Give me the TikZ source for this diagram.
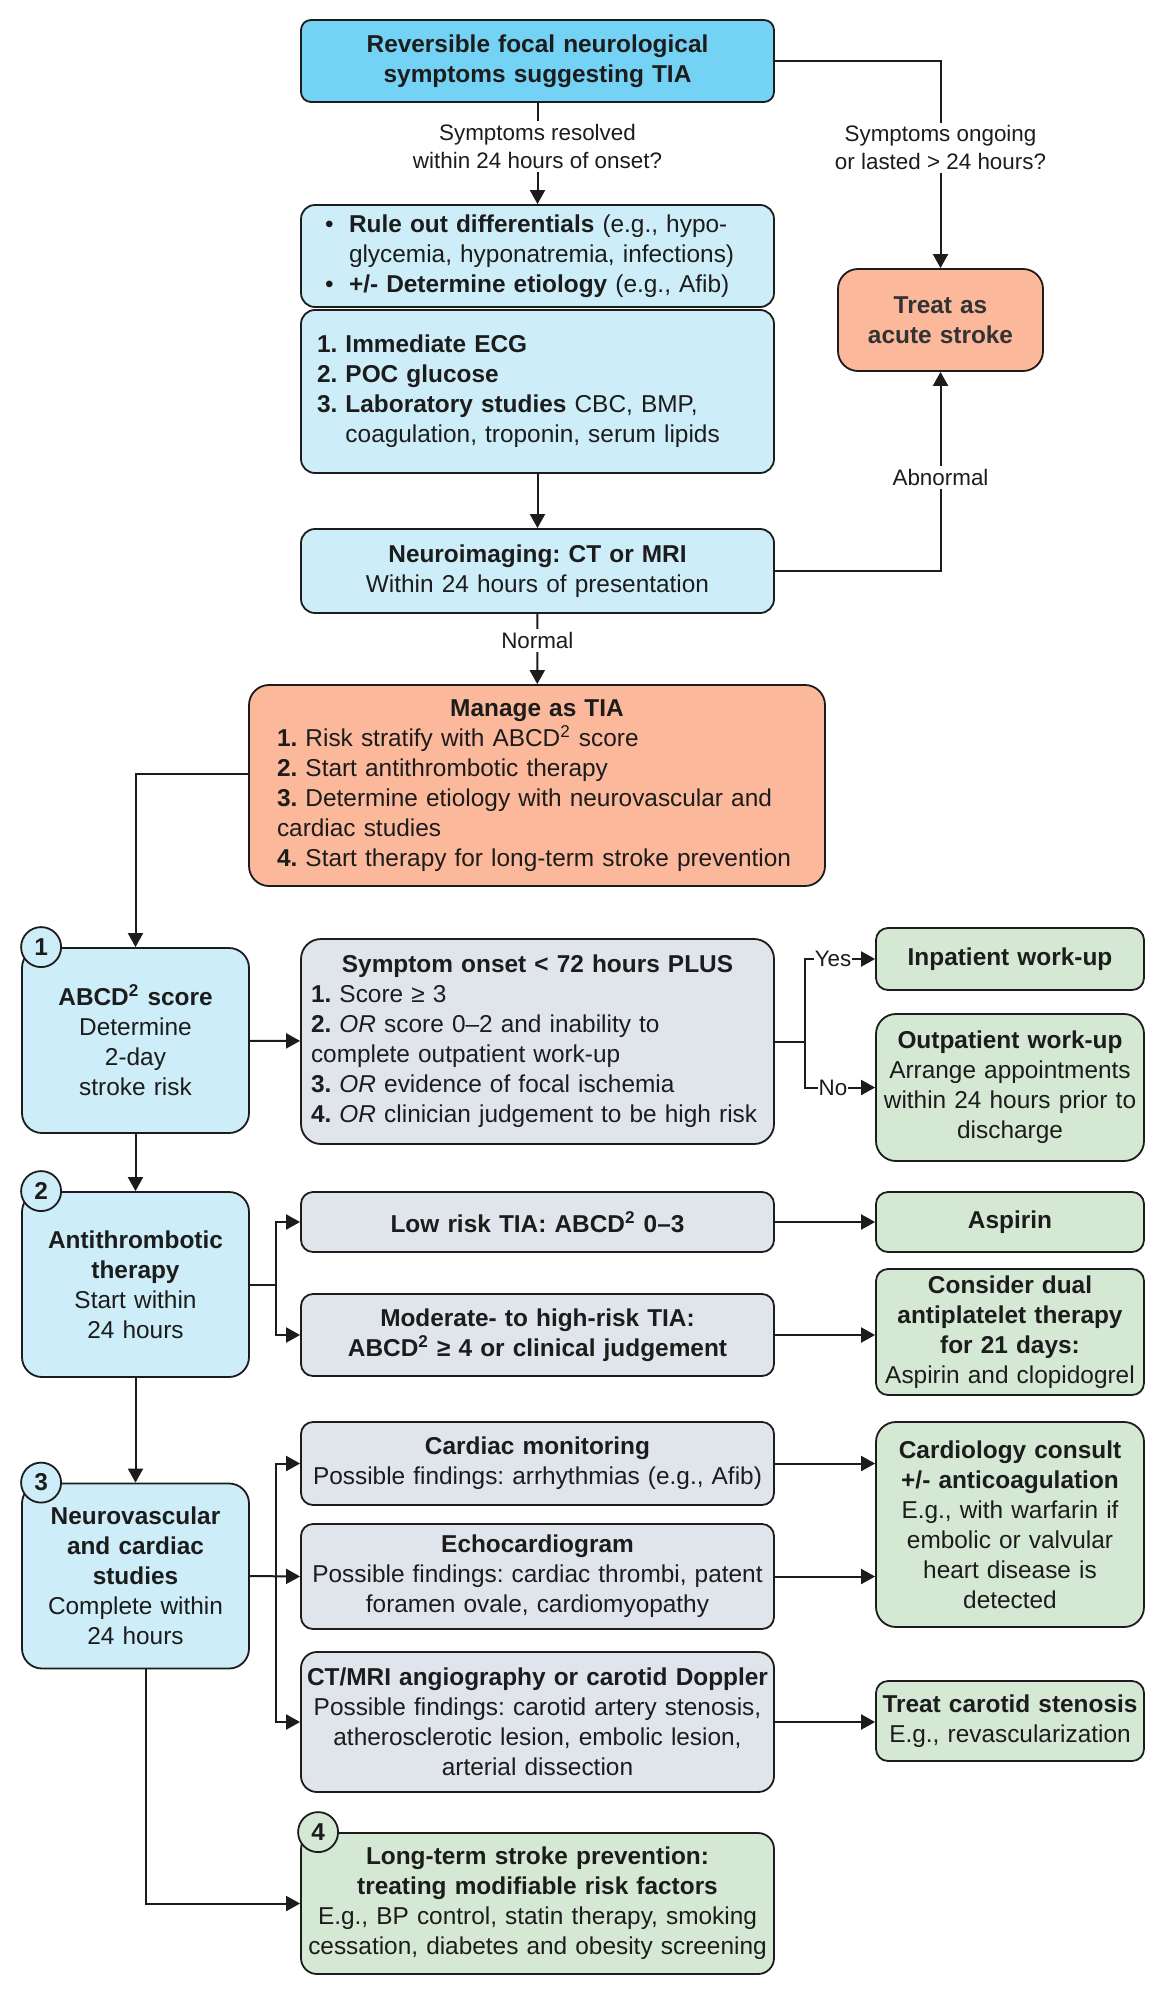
\documentclass[tikz,border=0pt]{standalone}
\usepackage{fontspec}
\setmainfont{Liberation Sans}
\usepackage{tikz}
\usetikzlibrary{arrows.meta,positioning,calc}
\definecolor{headcolor}{HTML}{74D2F4}
\definecolor{bluefill}{HTML}{CDEEF9}
\definecolor{salmonfill}{HTML}{FBB89B}
\definecolor{grayfill}{HTML}{E0E4EB}
\definecolor{greenfill}{HTML}{D5E8D4}
\definecolor{ink}{HTML}{1C1C1C}
\definecolor{softink}{HTML}{333333}
\newcommand{\bodysize}{\fontsize{12.2}{15}\selectfont\frenchspacing}
\newcommand{\labelsize}{\fontsize{11.2}{14}\selectfont\frenchspacing}
\tikzset{
  headnode/.style={
    draw=ink,
    line width=0.9pt,
    rounded corners=5pt,
    fill=headcolor,
    align=center,
    font=\bodysize,
    text=ink,
    inner sep=2pt
  },
  bluenode/.style={
    draw=ink,
    line width=0.9pt,
    rounded corners=7pt,
    fill=bluefill,
    align=center,
    font=\bodysize,
    text=ink,
    inner sep=2pt
  },
  salmonnode/.style={
    draw=ink,
    line width=0.9pt,
    rounded corners=10pt,
    fill=salmonfill,
    align=center,
    font=\bodysize,
    text=ink,
    inner sep=2pt
  },
  graynode/.style={
    draw=ink,
    line width=0.9pt,
    rounded corners=6pt,
    fill=grayfill,
    align=center,
    font=\bodysize,
    text=ink,
    inner sep=2pt
  },
  greennode/.style={
    draw=ink,
    line width=0.9pt,
    rounded corners=6pt,
    fill=greenfill,
    align=center,
    font=\bodysize,
    text=ink,
    inner sep=2pt
  },
  badge/.style={
    circle,
    draw=ink,
    line width=0.9pt,
    minimum size=20pt,
    inner sep=0pt,
    font=\bodysize\bfseries,
    text=ink
  },
  lbl/.style={fill=white, inner sep=1.5pt, font=\labelsize, text=ink, align=center},
  plainline/.style={line width=1pt, draw=ink},
  flowarrow/.style={-{Triangle[length=7pt,width=7.5pt]}, line width=1pt, draw=ink}
}
\begin{document}
\begin{tikzpicture}[x=0.5pt, y=-0.5pt]
  \fill[white] (0,0) rectangle (1167,2000);
  \useasboundingbox (0,0) rectangle (1167,2000);
  % middle column
  \node[headnode, minimum width=236.5pt, minimum height=41pt, text width=232.5pt] (suspect) at (537.5,61)
    {\textbf{Reversible focal neurological}\\\textbf{symptoms suggesting TIA}};
  \node[bluenode, minimum width=236.5pt, minimum height=51pt, inner xsep=12pt, text width=212.5pt, align=left] (ruleout) at (537.5,256)
    {\makebox[12pt][l]{\textbullet}\textbf{Rule out differentials} (e.g., hypo-\\\hspace*{12pt}glycemia, hyponatremia, infections)\\\makebox[12pt][l]{\textbullet}\textbf{+/- Determine etiology} (e.g., Afib)};
  \node[bluenode, minimum width=236.5pt, minimum height=81.5pt, inner xsep=8pt, text width=220.5pt, align=left] (workup) at (537.5,391.5)
    {\textbf{1. Immediate ECG}\\\textbf{2. POC glucose}\\\textbf{3. Laboratory studies} CBC, BMP,\\\hphantom{\textbf{3. }}coagulation, troponin, serum lipids};
  \node[bluenode, minimum width=236.5pt, minimum height=42pt, text width=232.5pt] (imaging) at (537.5,571)
    {\textbf{Neuroimaging: CT or MRI}\\Within 24 hours of presentation};
  \node[salmonnode, minimum width=102.5pt, minimum height=51pt, text width=98.5pt, text=softink] (acute) at (940.5,320)
    {\textbf{Treat as}\\\textbf{acute stroke}};
  \node[salmonnode, minimum width=288pt, minimum height=100.5pt, inner xsep=14pt, text width=260pt, align=left] (manage) at (537,785.5)
    {\makebox[\linewidth]{\textbf{Manage as TIA}}\\\textbf{1.} Risk stratify with ABCD\textsuperscript{2} score\\\textbf{2.} Start antithrombotic therapy\\\textbf{3.} Determine etiology with neurovascular and\\cardiac studies\\\textbf{4.} Start therapy for long-term stroke prevention};
  % step 1
  \node[bluenode, rounded corners=10pt, minimum width=113.5pt, minimum height=92.5pt, text width=109.5pt] (abcd) at (135.5,1040.5)
    {\textbf{ABCD\textsuperscript{2} score}\\Determine\\2-day\\stroke risk};
  \node[badge, fill=bluefill] (badgeone) at ([xshift=10pt]abcd.north west) {1};
  \node[graynode, rounded corners=10pt, minimum width=236.5pt, minimum height=102.5pt, inner xsep=5pt, text width=226.5pt, align=left] (onset) at (537.5,1041.5)
    {\makebox[\linewidth]{\textbf{Symptom onset < 72 hours PLUS}}\\\textbf{1.} Score ≥ 3\\\textbf{2.} \textit{OR} score 0--2 and inability to\\complete outpatient work-up\\\textbf{3.} \textit{OR} evidence of focal ischemia\\\textbf{4.} \textit{OR} clinician judgement to be high risk};
  \node[greennode, minimum width=134pt, minimum height=31pt, text width=130pt] (inpatient) at (1010,959)
    {\textbf{Inpatient work-up}};
  \node[greennode, rounded corners=10pt, minimum width=134pt, minimum height=73.5pt, text width=130pt] (outpatient) at (1010,1087.5)
    {\textbf{Outpatient work-up}\\Arrange appointments\\within 24 hours prior to\\discharge};
  % step 2
  \node[bluenode, rounded corners=10pt, minimum width=113.5pt, minimum height=92.5pt, text width=109.5pt] (antithr) at (135.5,1284.5)
    {\textbf{Antithrombotic}\\\textbf{therapy}\\Start within\\24 hours};
  \node[badge, fill=bluefill] (badgetwo) at ([xshift=10pt]antithr.north west) {2};
  \node[graynode, minimum width=236.5pt, minimum height=30pt, text width=232.5pt] (lowrisk) at (537.5,1222)
    {\textbf{Low risk TIA: ABCD\textsuperscript{2} 0--3}};
  \node[graynode, minimum width=236.5pt, minimum height=41pt, text width=232.5pt] (highrisk) at (537.5,1335)
    {\textbf{Moderate- to high-risk TIA:}\\\textbf{ABCD\textsuperscript{2} ≥ 4 or clinical judgement}};
  \node[greennode, minimum width=134pt, minimum height=30pt, text width=130pt] (aspirin) at (1010,1222)
    {\textbf{Aspirin}};
  \node[greennode, minimum width=134pt, minimum height=63pt, text width=130pt] (dapt) at (1010,1332)
    {\textbf{Consider dual}\\\textbf{antiplatelet therapy}\\\textbf{for 21 days:}\\Aspirin and clopidogrel};
  % step 3
  \node[bluenode, rounded corners=10pt, minimum width=113.5pt, minimum height=92.5pt, text width=109.5pt] (etiology) at (135.5,1576)
    {\textbf{Neurovascular}\\\textbf{and cardiac}\\\textbf{studies}\\Complete within\\24 hours};
  \node[badge, fill=bluefill] (badgethree) at ([xshift=10pt]etiology.north west) {3};
  \node[graynode, minimum width=236.5pt, minimum height=41.5pt, text width=232.5pt] (monitor) at (537.5,1463.5)
    {\textbf{Cardiac monitoring}\\Possible findings: arrhythmias (e.g., Afib)};
  \node[graynode, minimum width=236.5pt, minimum height=52.5pt, text width=232.5pt] (echo) at (537.5,1576.5)
    {\textbf{Echocardiogram}\\Possible findings: cardiac thrombi, patent\\foramen ovale, cardiomyopathy};
  \node[graynode, rounded corners=8pt, minimum width=236.5pt, minimum height=70pt, text width=232.5pt] (angio) at (537.5,1722)
    {\textbf{CT/MRI angiography or carotid Doppler}\\Possible findings: carotid artery stenosis,\\atherosclerotic lesion, embolic lesion,\\arterial dissection};
  \node[greennode, rounded corners=10pt, minimum width=134pt, minimum height=102.5pt, text width=130pt] (cardiology) at (1010,1524.5)
    {\textbf{Cardiology consult}\\\textbf{+/- anticoagulation}\\E.g., with warfarin if\\embolic or valvular\\heart disease is\\detected};
  \node[greennode, minimum width=134pt, minimum height=40pt, text width=130pt] (carotid) at (1010,1721)
    {\textbf{Treat carotid stenosis}\\E.g., revascularization};
  % step 4
  \node[greennode, rounded corners=8pt, minimum width=236.5pt, minimum height=70.5pt, text width=232.5pt] (prevention) at (537.5,1903.5)
    {\textbf{Long-term stroke prevention:}\\\textbf{treating modifiable risk factors}\\E.g., BP control, statin therapy, smoking\\cessation, diabetes and obesity screening};
  \node[badge, fill=greenfill] (badgefour) at ([xshift=9pt]prevention.north west) {4};
  % forks
  \coordinate (onsetfork) at (805,1041.5);
  \coordinate (antifork) at (275.5,1284.5);
  \coordinate (studyfork) at (275.5,1576);
  % connectors
  \draw[flowarrow] (suspect) -- node[lbl, pos=0.43] {Symptoms resolved\\within 24 hours of onset?} (ruleout);
  \draw[flowarrow] (suspect.east) -| node[lbl, pos=0.71] {Symptoms ongoing\\or lasted > 24 hours?} (acute.north);
  \draw[flowarrow] (workup) -- (imaging);
  \draw[flowarrow] (imaging.east) -| node[lbl, pos=0.735] {Abnormal} (acute.south);
  \draw[flowarrow] (imaging) -- node[lbl, pos=0.38] {Normal} (manage);
  \draw[flowarrow] ([yshift=6pt]manage.west) -| (abcd.north);
  \draw[flowarrow] (abcd) -- (onset);
  \draw[plainline] (onset.east) -- (onsetfork);
  \draw[flowarrow] (onsetfork) |- node[lbl, pos=0.7, inner sep=0.5pt] {Yes} (inpatient.west);
  \draw[flowarrow] (onsetfork) |- node[lbl, pos=0.7, inner sep=0.5pt] {No} (outpatient.west);
  \draw[flowarrow] (abcd) -- (antithr);
  \draw[plainline] (antithr.east) -- (antifork);
  \draw[flowarrow] (antifork) |- (lowrisk.west);
  \draw[flowarrow] (antifork) |- (highrisk.west);
  \draw[flowarrow] (lowrisk) -- (aspirin);
  \draw[flowarrow] (highrisk.east) -- (highrisk.east -| dapt.west);
  \draw[flowarrow] (antithr) -- (etiology);
  \draw[flowarrow] (etiology.east) -- (echo.west);
  \draw[flowarrow] (studyfork) |- (monitor.west);
  \draw[flowarrow] (studyfork) |- (angio.west);
  \draw[flowarrow] (monitor.east) -- (monitor.east -| cardiology.west);
  \draw[flowarrow] (echo.east) -- (echo.east -| cardiology.west);
  \draw[flowarrow] (angio.east) -- (angio.east -| carotid.west);
  \draw[flowarrow] ([xshift=5pt]etiology.south) |- (prevention.west);
\end{tikzpicture}
\end{document}
